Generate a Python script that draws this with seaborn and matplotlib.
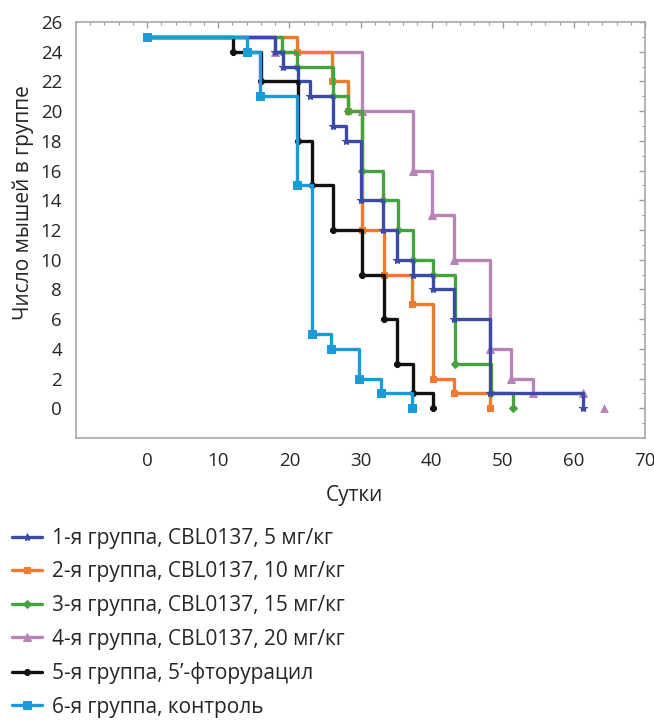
import numpy as np
import pandas as pd
import matplotlib
matplotlib.use("Agg")
import matplotlib.pyplot as plt
import seaborn as sns
from matplotlib.ticker import MultipleLocator

sns.set_theme(style="white")
plt.rcParams["font.family"] = ["Open Sans", "DejaVu Sans"]

# ---- data (days, number of mice alive) ----
g1_t = [0, 18.0, 19.1, 21.2, 22.9, 26.2, 28.0, 30.0, 33.2, 35.2, 37.4, 40.2, 43.1, 48.2, 61.3]
g1_n = [25, 24, 23, 22, 21, 19, 18, 14, 12, 10, 9, 8, 6, 1, 0]

g2_t = [0, 21.1, 26.0, 28.3, 30.2, 33.3, 37.3, 40.2, 43.1, 48.2]
g2_n = [25, 24, 22, 20, 12, 9, 7, 2, 1, 0]

g3_t = [0, 19.0, 21.1, 26.2, 28.2, 30.2, 33.2, 35.3, 37.4, 40.2, 43.3, 48.4, 51.4]
g3_n = [25, 24, 23, 21, 20, 16, 14, 12, 10, 9, 3, 1, 0]

g4_t = [0, 18.0, 30.2, 37.4, 40.1, 43.2, 48.2, 51.1, 54.3, 61.3]
g4_n = [25, 24, 20, 16, 13, 10, 4, 2, 1, 1]
g4_end_t = [64.3]
g4_end_n = [0]

g5_t = [0, 12.1, 16.0, 21.2, 23.2, 26.2, 30.2, 33.3, 35.2, 37.4, 40.2]
g5_n = [25, 24, 22, 18, 15, 12, 9, 6, 3, 1, 0]

g6_t = [0, 14.0, 15.9, 21.1, 23.2, 25.9, 29.8, 32.9, 37.3]
g6_n = [25, 24, 21, 15, 5, 4, 2, 1, 0]

labels = [
    "1-я группа, CBL0137, 5 мг/кг",
    "2-я группа, CBL0137, 10 мг/кг",
    "3-я группа, CBL0137, 15 мг/кг",
    "4-я группа, CBL0137, 20 мг/кг",
    "5-я группа, 5\u2019-фторурацил",
    "6-я группа, контроль",
]
x_ticks = [0, 10, 20, 30, 40, 50, 60, 70]
y_ticks = list(range(0, 27, 2))
x_label = "Сутки"
y_label = "Число мышей в группе"

colors = ["#3a4aa6", "#f07a2e", "#45a33f", "#b884b8", "#111111", "#1a9bd7"]
markers = ["*", "s", "D", "^", "8", "s"]
msizes = [6, 5, 4.5, 6, 5, 5.5]
series = [(g1_t, g1_n), (g2_t, g2_n), (g3_t, g3_n), (g4_t, g4_n), (g5_t, g5_n), (g6_t, g6_n)]

fig = plt.figure(figsize=(6.54, 7.23), dpi=100)
ax = fig.add_axes([76 / 654, 1 - 438 / 723, 569 / 654, 416 / 723])

draw_order = [3, 1, 2, 0, 4, 5]
for i in draw_order:
    t, n = series[i]
    df = pd.DataFrame({"t": t, "n": n})
    sns.lineplot(data=df, x="t", y="n", ax=ax, color=colors[i], marker=markers[i],
                 markersize=msizes[i], markeredgecolor=colors[i], linewidth=2.4,
                 drawstyle="steps-post", estimator=None, sort=False, label=labels[i])

end_df = pd.DataFrame({"t": g4_end_t, "n": g4_end_n})
sns.scatterplot(data=end_df, x="t", y="n", ax=ax, color=colors[3], marker="^", s=40,
                edgecolor=colors[3], linewidth=0)

h, l = ax.get_legend_handles_labels()
hl = dict(zip(l, h))
if ax.get_legend() is not None:
    ax.get_legend().remove()

ax.set_xlim(-10, 70)
ax.set_ylim(-2, 26)
ax.set_xticks(x_ticks)
ax.set_yticks(y_ticks)
ax.xaxis.set_minor_locator(MultipleLocator(2))
ax.yaxis.set_minor_locator(MultipleLocator(1))
ax.tick_params(which="both", direction="in", color="#9a9a9a", top=True, right=True,
               labeltop=False, labelright=False)
ax.tick_params(which="major", length=4, width=1, labelsize=13.5, pad=10)
ax.tick_params(which="minor", length=2.5, width=0.8)
for s in ax.spines.values():
    s.set_color("#a8a8a8")
    s.set_linewidth(1.2)

ax.set_xlabel(x_label, fontsize=15)
ax.set_ylabel(y_label, fontsize=15)
ax.xaxis.set_label_coords(0.49, -0.112)
ax.yaxis.set_label_coords(-0.074, 0.565)

fig.legend([hl[lb] for lb in labels], labels, loc="upper left",
           bbox_to_anchor=(0.018, 1 - 528 / 723), frameon=False, fontsize=15,
           handlelength=1.45, handletextpad=0.5, labelspacing=0.6, borderaxespad=0,
           borderpad=0)

fig.savefig("out.png", dpi=100)
